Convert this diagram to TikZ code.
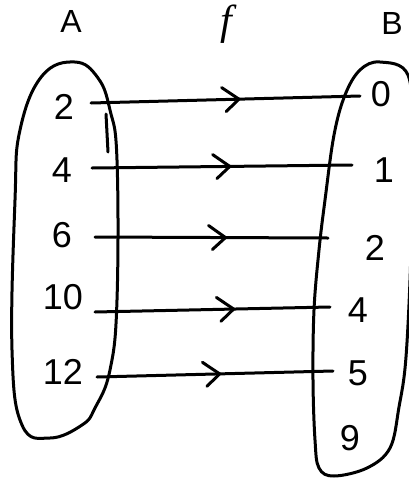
\documentclass[tikz,border=0pt]{standalone}
\usepackage{fontspec}
\setmainfont{Liberation Sans}
\newfontfamily\seriff{Liberation Serif}
\usetikzlibrary{decorations.markings}
\begin{document}
\begin{tikzpicture}[x=1pt,y=-1pt,line width=3pt,line cap=round,line join=round,
  elem/.style={inner sep=0pt,font=\fontsize{36}{40}\selectfont},
  setlbl/.style={inner sep=0pt,font=\fontsize{32}{34}\selectfont},
  maparrow/.style={decoration={markings,mark=at position #1 with {\draw[line width=3pt] (-17,-12) -- (0,0) -- (-13,12);}},postaction={decorate}},
  setoval/.style={line width=3pt}]
\useasboundingbox (0,0) rectangle (409,480);
\clip (0,0) rectangle (409,480);
\fill[white] (0,0) rectangle (409,480);
% labels
\node[setlbl] (A) at (71,21) {A};
\node[setlbl,font=\fontsize{42}{44}\selectfont] (f) at (226,24) {\seriff\itshape f};
\node[setlbl] (B) at (392,23) {B};
% sets
\draw[setoval] plot[smooth cycle,tension=0.7] coordinates {(75,62) (98,78) (110,110) (117,160) (117,300) (110,370) (95,408) (82,425) (50,438) (22,425) (12,350) (15,200) (20,130) (42,76)};
\draw[setoval] (106,114) -- (108,152);
\draw[setoval] plot[smooth cycle,tension=0.6] coordinates {(380,62) (360,70) (345,95) (334,135) (325,200) (319,250) (314,310) (313,380) (315,440) (319,468) (334,476) (367,468) (390,448) (399,407) (406,357) (411,250) (412,140) (408,75)};
% elements of A
\node[elem] (l2) at (64,107) {2};
\node[elem] (l4) at (62,170) {4};
\node[elem] (l6) at (62,235) {6};
\node[elem] (l10) at (63,297) {10};
\node[elem] (l12) at (63,372) {12};
% elements of B
\node[elem] (r0) at (381,94) {0};
\node[elem] (r1) at (384,170) {1};
\node[elem] (r2) at (375,248) {2};
\node[elem] (r4) at (358,310) {4};
\node[elem] (r5) at (358,373) {5};
\node[elem] (r9) at (350,438) {9};
% mapping
\draw[maparrow=0.55] ([shift={(27,-4)}]l2.center) -- ([shift={(-21,2)}]r0.center);
\draw[maparrow=0.53] ([shift={(30,-2)}]l4.center) -- ([shift={(-32,-5)}]r1.center);
\draw[maparrow=0.56] ([shift={(33,2)}]l6.center) -- ([shift={(-47,-10)}]r2.center);
\draw[maparrow=0.59] ([shift={(32,15)}]l10.center) -- ([shift={(-28,-3)}]r4.center);
\draw[maparrow=0.52] ([shift={(34,5)}]l12.center) -- ([shift={(-25,-2)}]r5.center);
\end{tikzpicture}
\end{document}
